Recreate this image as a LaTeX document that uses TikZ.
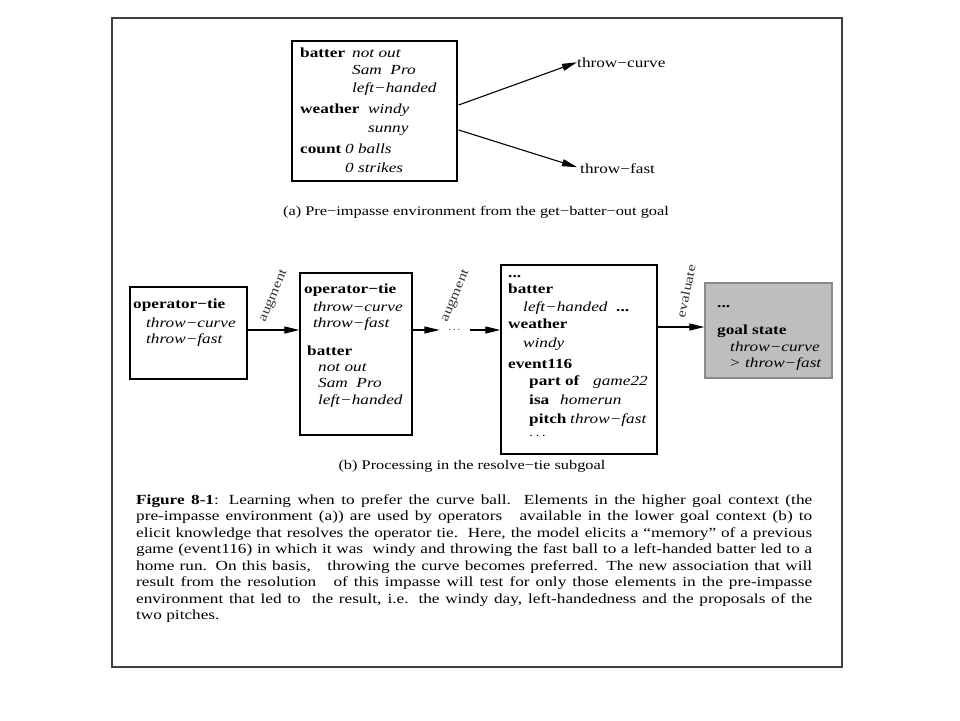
\documentclass[tikz,border=0pt]{standalone}
\usepackage{fontspec}
\setmainfont{Liberation Serif}[FakeStretch=1.24]
\usetikzlibrary{arrows.meta,calc}
\definecolor{framec}{HTML}{404040}
\definecolor{goalfill}{HTML}{BEBEBE}
\definecolor{goalline}{HTML}{8A8A8A}
\begin{document}
\begin{tikzpicture}[x=1pt,y=-1pt,
  txt/.style={inner sep=0pt,anchor=base west,font=\fontsize{13.9}{16}\selectfont},
  itx/.style={txt,font=\fontsize{13.9}{16}\selectfont\itshape},
  bfx/.style={txt,font=\fontsize{13.9}{16}\selectfont\bfseries},
  boxs/.style={draw=black,line width=1.3pt,rectangle,inner sep=0pt},
  goalbox/.style={draw=goalline,fill=goalfill,line width=1.3pt,rectangle,inner sep=0pt},
  arr/.style={line width=1.1pt,-{Triangle[length=15pt,width=7pt]}},
  lab/.style={inner sep=0pt,font=\fontsize{13}{15}\selectfont,text=black!80},
  captxt/.style={inner sep=0pt,font=\fontsize{13.2}{16}\selectfont},
  capline/.style={inner sep=0pt,anchor=base west,font=\fontsize{13.9}{16}\selectfont}
]
\useasboundingbox (0,0) rectangle (960,720);
\node[draw=framec,line width=1.8pt,minimum width=730pt,minimum height=649pt,inner sep=0pt] (frame) at (477,342.5) {};

% ---------- (a) ----------
\node[boxs,minimum width=165pt,minimum height=140pt] (boxA) at (374.5,111) {};
\node[bfx] (a1) at (300,57) {batter};
\node[itx] (a2) at (352,57) {not out};
\node[itx] (a3) at (352,74) {Sam\ \ Pro};
\node[itx] (a4) at (352,92) {left−handed};
\node[bfx] (a5) at (300,113) {weather};
\node[itx] (a6) at (368,113) {windy};
\node[itx] (a7) at (368,132) {sunny};
\node[bfx] (a8) at (300,153) {count};
\node[itx] (a9) at (345,153) {0 balls};
\node[itx] (a10) at (345,172) {0 strikes};
\node[txt] (curve) at (577,67) {throw−curve};
\node[txt] (fast) at (580,173) {throw−fast};
\draw[arr] ($(boxA.east)+(1,-6)$) -- (curve.west);
\draw[arr] ($(boxA.east)+(1,19)$) -- ($(fast.west)+(-3,-1)$);
\node[captxt] (capA) at (476,212) {(a) Pre−impasse environment from the get−batter−out goal};

% ---------- (b) ----------
\coordinate (rowb) at (0,330);
\coordinate (rowc) at (0,327);
\node[boxs,minimum width=117pt,minimum height=92pt] (box1) at (188.5,333) {};
\node[bfx] (b1) at (133,308) {operator−tie};
\node[itx] (b2) at (146,327) {throw−curve};
\node[itx] (b3) at (146,343) {throw−fast};

\node[boxs,minimum width=112pt,minimum height=162pt] (box2) at (356,354) {};
\node[bfx] (c1) at (304,293) {operator−tie};
\node[itx] (c2) at (313,311) {throw−curve};
\node[itx] (c3) at (313,327) {throw−fast};
\node[bfx] (c4) at (307,355) {batter};
\node[itx] (c5) at (318,371) {not out};
\node[itx] (c6) at (318,387) {Sam\ \ Pro};
\node[itx] (c7) at (318,404) {left−handed};

\node[boxs,minimum width=156pt,minimum height=189pt] (box3) at (579,359.5) {};
\node[bfx] (d0) at (508,277) {...};
\node[bfx] (d1) at (508,293) {batter};
\node[itx] (d2) at (523,311) {left−handed\ \ \textbf{\upshape ...}};
\node[bfx] (d3) at (508,328) {weather};
\node[itx] (d4) at (523,347) {windy};
\node[bfx] (d5) at (508,368) {event116};
\node[bfx] (d6) at (529,385) {part of};
\node[itx] (d7) at (593,385) {game22};
\node[bfx] (d8) at (529,404) {isa};
\node[itx] (d9) at (560,404) {homerun};
\node[bfx] (d10) at (529,423) {pitch};
\node[itx] (d11) at (570,423) {throw−fast};
\node[txt] (d12) at (529,439) {$\cdots$};

\node[goalbox,minimum width=127pt,minimum height=95pt] (box4) at (768.5,330.5) {};
\node[bfx] (e0) at (717,307) {...};
\node[bfx] (e1) at (717,334) {goal state};
\node[itx] (e2) at (730,351) {throw−curve};
\node[itx] (e3) at (729,367) {> throw−fast};

\node[inner xsep=9pt,inner ysep=0pt] (dots) at (454.5,330) {$\cdots$};

\draw[arr] (box1.east |- rowb) -- (box2.west |- rowb);
\draw[arr] (box2.east |- rowb) -- (dots.west);
\draw[arr] (dots.east) -- (box3.west |- rowb);
\draw[arr] (box3.east |- rowc) -- (box4.west |- rowc);

\node[lab,rotate=67] (l1) at (274,296) {augment};
\node[lab,rotate=67] (l2) at (456,296) {augment};
\node[lab,rotate=78] (l3) at (686,291) {evaluate};

\node[captxt] (capB) at (472,466) {(b) Processing in the resolve−tie subgoal};

% ---------- caption ----------
\node[capline] (f1) at (136,504) {\makebox[676pt][s]{\textbf{Figure 8-1}: Learning when to prefer the curve ball.\ \ Elements in the higher goal context (the}};
\node[capline] (f2) at (136,520.5) {\makebox[676pt][s]{pre-impasse environment (a)) are used by operators\hspace{0.8em} available in the lower goal context (b) to}};
\node[capline] (f3) at (136,537) {\makebox[676pt][s]{elicit knowledge that resolves the operator tie.\ \ Here, the model elicits a “memory” of a previous}};
\node[capline] (f4) at (136,553.5) {\makebox[676pt][s]{game (event116) in which it was\ \ windy and throwing the fast ball to a left-handed batter led to a}};
\node[capline] (f5) at (136,570) {\makebox[676pt][s]{home run. On this basis,\hspace{0.8em} throwing the curve becomes preferred. The new association that will}};
\node[capline] (f6) at (136,586.5) {\makebox[676pt][s]{result from the resolution\hspace{0.8em} of this impasse will test for only those elements in the pre-impasse}};
\node[capline] (f7) at (136,603) {\makebox[676pt][s]{environment that led to\ \ the result, i.e. the windy day, left-handedness and the proposals of the}};
\node[capline] (f8) at (136,619.5) {two pitches.};
\end{tikzpicture}
\end{document}
